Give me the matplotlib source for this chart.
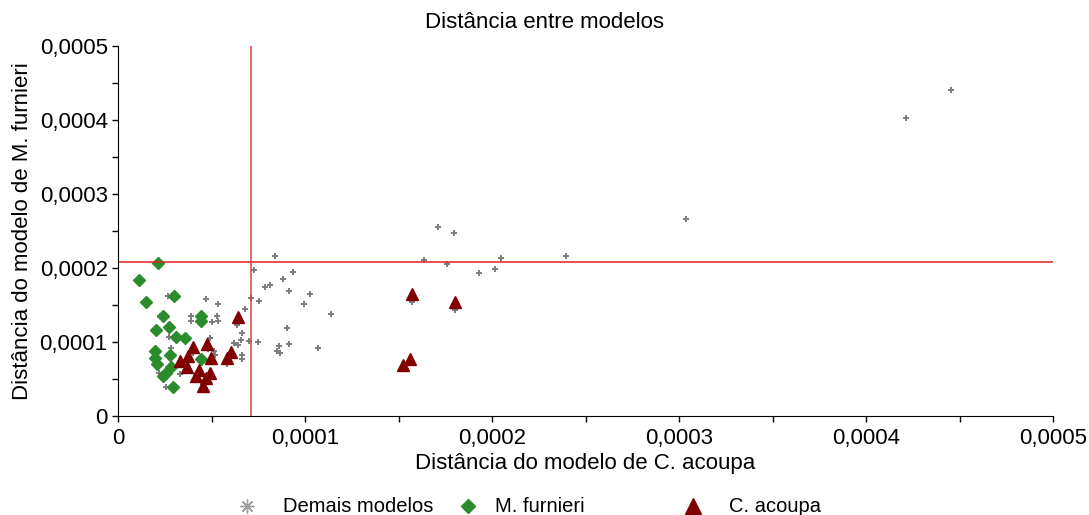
import numpy as np
import matplotlib
matplotlib.use("Agg")
import matplotlib.pyplot as plt
from matplotlib.ticker import MultipleLocator, FuncFormatter
from matplotlib.lines import Line2D

plt.rcParams['font.family'] = ['Liberation Sans', 'DejaVu Sans']

# valores em unidades de 1e-5
ESCALA = 1e-5

# demais modelos (pontos cinza)
demais_x = np.array([8.41, 7.27, 9.38, 8.82, 8.11, 7.86, 9.13, 10.28, 7.09, 4.69,
                     5.35, 7.56, 9.93, 6.81, 11.39, 5.29, 5.35, 5.04, 6.35, 9.02,
                     4.94, 6.65, 6.56, 7.00, 7.47, 6.19, 6.40, 9.13, 8.61, 10.68,
                     8.50, 8.68, 6.65, 6.65, 3.92, 3.92, 2.67, 2.23, 2.73, 2.82,
                     4.90, 5.12, 5.17, 5.04, 4.81, 5.85, 3.30, 2.58, 2.21, 4.01,
                     17.09, 17.95, 16.38, 17.59, 20.50, 19.30, 20.16, 23.94, 15.72, 18.04,
                     15.61, 15.22, 42.16, 44.55, 30.37, 3.72, 4.34, 4.56, 4.96, 6.06,
                     3.30, 4.68])
demais_y = np.array([21.7, 19.8, 19.5, 18.5, 17.8, 17.5, 16.9, 16.5, 16.0, 15.9,
                     15.2, 15.6, 15.2, 14.5, 13.8, 13.6, 12.9, 12.7, 12.4, 11.9,
                     10.65, 11.3, 10.3, 10.2, 10.0, 9.9, 9.6, 9.8, 9.57, 9.2,
                     8.85, 8.6, 8.3, 7.8, 13.6, 12.9, 16.3, 13.6, 10.7, 9.2,
                     10.6, 8.85, 8.3, 8.15, 9.1, 7.1, 5.75, 3.95, 5.9, 8.5,
                     25.6, 24.7, 21.1, 20.6, 21.4, 19.3, 19.9, 21.7, 15.4, 14.4,
                     7.2, 6.4, 40.24, 44.1, 26.6, 7.7, 5.9, 3.7, 7.5, 8.3,
                     7.0, 4.8])

# M. furnieri
furnieri_x = np.array([2.14, 1.11, 2.98, 1.51, 2.42, 4.46, 4.46, 2.02, 2.73, 3.08,
                       3.60, 2.00, 2.76, 2.00, 2.10, 4.46, 2.85, 2.58, 2.41, 2.94])
furnieri_y = np.array([20.7, 18.4, 16.3, 15.4, 13.6, 13.6, 12.9, 11.7, 12.1, 10.7,
                       10.6, 8.9, 8.35, 7.9, 7.1, 7.7, 6.7, 5.9, 5.4, 3.95])

# C. acoupa
acoupa_x = np.array([6.40, 3.99, 4.78, 3.74, 3.32, 4.99, 6.06, 5.84, 3.71, 4.33,
                     4.15, 4.92, 4.69, 4.55, 15.74, 18.04, 15.61, 15.22])
acoupa_y = np.array([13.4, 9.35, 9.8, 8.1, 7.45, 7.9, 8.75, 7.9, 6.65, 6.3,
                     5.5, 5.85, 5.15, 4.1, 16.55, 15.5, 7.73, 6.95])

# linhas de corte
corte_x = 7.09
corte_y = 20.9

fig = plt.figure(figsize=(10.89, 5.15), dpi=100)
ax = fig.add_axes([0.1084, 0.1913, 0.8586, 0.7194])

ax.plot(demais_x * ESCALA, demais_y * ESCALA, linestyle='none', marker='+',
        markersize=4, markeredgewidth=1.4, color='#7c7c7c')
ax.plot(furnieri_x * ESCALA, furnieri_y * ESCALA, linestyle='none', marker='D',
        markersize=5.8, color='#2a8c2a')
ax.plot(acoupa_x * ESCALA, acoupa_y * ESCALA, linestyle='none', marker='^',
        markersize=8.3, color='#800000')

ax.axhline(corte_y * ESCALA, color='#e02020', lw=1.1)
ax.axvline(corte_x * ESCALA, color='#e83a3a', lw=1.1)

ax.set_xlim(0, 0.0005)
ax.set_ylim(0, 0.0005)
ax.xaxis.set_major_locator(MultipleLocator(0.0001))
ax.yaxis.set_major_locator(MultipleLocator(0.0001))
ax.xaxis.set_minor_locator(MultipleLocator(0.00005))
ax.yaxis.set_minor_locator(MultipleLocator(0.00005))

fmt = FuncFormatter(lambda v, p: '0' if abs(v) < 1e-12 else ('%.4f' % v).replace('.', ','))
ax.xaxis.set_major_formatter(fmt)
ax.yaxis.set_major_formatter(fmt)
ax.tick_params(which='both', direction='out', length=4, width=1, labelsize=16)
ax.tick_params(axis='x', pad=4)

for s in ['top', 'right']:
    ax.spines[s].set_visible(False)

# titulo centrado na figura
fig.text(0.5, 1 - 22 / 515, 'Distância entre modelos', fontsize=16, ha='center', va='center')
ax.set_xlabel('Distância do modelo de C. acoupa', fontsize=16, labelpad=3)
ax.set_ylabel('Distância do modelo de M. furnieri', fontsize=16, labelpad=5)

# legenda na parte de baixo
leg_y = 1 - 506 / 515
itens = [(247, 'Demais modelos', dict(marker=(8, 2, 0), markersize=10, markeredgewidth=1, color='#a0a0a0'), 283),
         (468, 'M. furnieri', dict(marker='D', markersize=7, color='#2a8c2a'), 495),
         (693, 'C. acoupa', dict(marker='^', markersize=11, color='#800000'), 729)]
for mx, txt, estilo, tx in itens:
    fig.add_artist(Line2D([mx / 1089], [leg_y], transform=fig.transFigure, linestyle='none', **estilo))
    fig.text(tx / 1089, leg_y, txt, fontsize=14.5, va='center', ha='left')

fig.savefig('out.png', dpi=100)
